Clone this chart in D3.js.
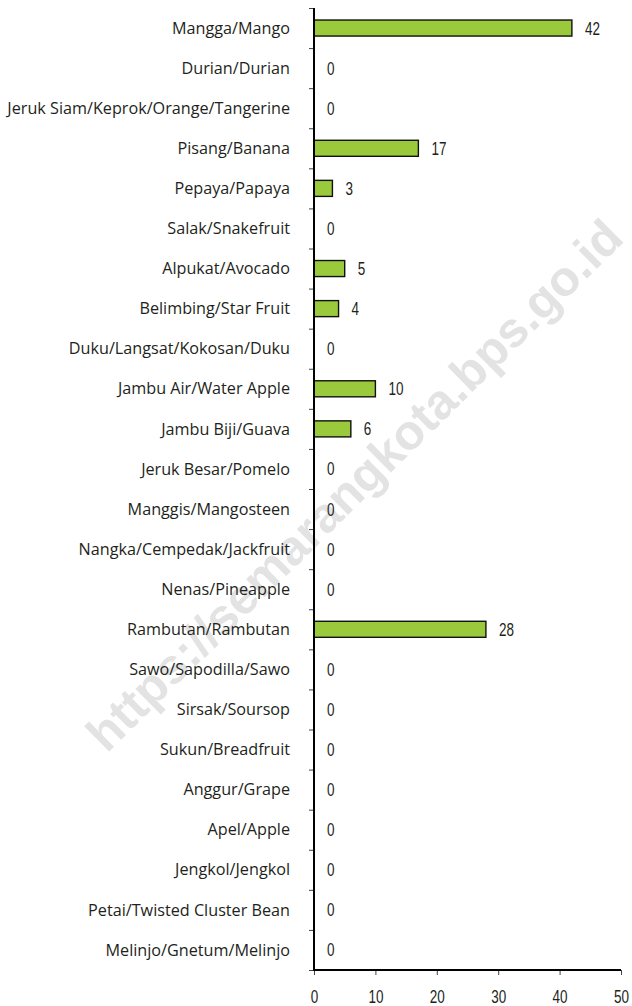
<!DOCTYPE html>
<html>
<head>
<meta charset="utf-8">
<script src="https://cdn.jsdelivr.net/npm/d3@7"></script>
<style>
  body { margin: 0; background: #fff; }
  .cat { font-family: "Open Sans", "Noto Sans", sans-serif; font-size: 16.2px; fill: #231f20; }
  .num { font-family: "Liberation Sans", Arial, sans-serif; font-size: 18px; fill: #231f20; }
</style>
</head>
<body>
<div id="chart"></div>
<script>
const categories = [
    'Mangga/Mango', 'Durian/Durian', 'Jeruk Siam/Keprok/Orange/Tangerine', 'Pisang/Banana',
    'Pepaya/Papaya', 'Salak/Snakefruit', 'Alpukat/Avocado', 'Belimbing/Star Fruit',
    'Duku/Langsat/Kokosan/Duku', 'Jambu Air/Water Apple', 'Jambu Biji/Guava', 'Jeruk Besar/Pomelo',
    'Manggis/Mangosteen', 'Nangka/Cempedak/Jackfruit', 'Nenas/Pineapple', 'Rambutan/Rambutan',
    'Sawo/Sapodilla/Sawo', 'Sirsak/Soursop', 'Sukun/Breadfruit', 'Anggur/Grape',
    'Apel/Apple', 'Jengkol/Jengkol', 'Petai/Twisted Cluster Bean', 'Melinjo/Gnetum/Melinjo'
];
const values = [42, 0, 0, 17, 3, 0, 5, 4, 0, 10, 6, 0, 0, 0, 0, 28, 0, 0, 0, 0, 0, 0, 0, 0];
const xTicks = [0, 10, 20, 30, 40, 50];
const watermark = 'https://semarangkota.bps.go.id';

const width = 632;
const height = 1006;
const margin = { top: 8, right: 11, bottom: 36, left: 314 };
const squeeze = 0.75; // narrow digits, like a condensed face

const svg = d3.select('#chart')
    .append('svg')
    .attr('width', width)
    .attr('height', height);

const xScale = d3.scaleLinear()
    .domain([0, 50])
    .range([margin.left, width - margin.right]);

const yScale = d3.scaleBand()
    .domain(categories)
    .range([margin.top, height - margin.bottom]);

// tick marks sit on the band boundaries
const yEdges = d3.scaleLinear()
    .domain([0, categories.length])
    .range([margin.top, height - margin.bottom]);

// watermark behind everything
svg.append('text')
    .attr('transform', 'translate(357,488) rotate(-44.7)')
    .attr('text-anchor', 'middle')
    .attr('dominant-baseline', 'middle')
    .attr('textLength', 730)
    .attr('lengthAdjust', 'spacingAndGlyphs')
    .style('font-family', '"Liberation Sans", Arial, sans-serif')
    .style('font-weight', 'bold')
    .style('font-size', '49px')
    .style('fill', '#e3e3e3')
    .text(watermark);

const rows = categories.map((c, i) => ({ c, v: values[i] }));
const barH = yScale.bandwidth() * 0.4;

svg.append('g')
    .selectAll('rect')
    .data(rows.filter((d) => d.v > 0))
    .join('rect')
    .attr('x', xScale(0))
    .attr('y', (d) => yScale(d.c) + (yScale.bandwidth() - barH) / 2)
    .attr('width', (d) => xScale(d.v) - xScale(0))
    .attr('height', barH)
    .attr('fill', '#9aca3c')
    .attr('stroke', '#111')
    .attr('stroke-width', 1.4);

// value labels
svg.append('g')
    .selectAll('text')
    .data(rows)
    .join('text')
    .attr('class', 'num')
    .attr('transform', (d) => `translate(${xScale(d.v) + 13},${yScale(d.c) + yScale.bandwidth() / 2}) scale(${squeeze},1)`)
    .attr('dy', '0.36em')
    .text((d) => d.v);

// category labels
svg.append('g')
    .selectAll('text')
    .data(categories)
    .join('text')
    .attr('class', 'cat')
    .attr('x', margin.left - 24)
    .attr('y', (d) => yScale(d) + yScale.bandwidth() / 2)
    .attr('dy', '0.35em')
    .attr('text-anchor', 'end')
    .text((d) => d);

// y ticks
const yAxis = svg.append('g')
    .attr('transform', `translate(${margin.left},0)`)
    .call(d3.axisLeft(yEdges).tickValues(d3.range(categories.length + 1)).tickFormat('').tickSize(5));
yAxis.select('.domain').remove();
yAxis.selectAll('line').attr('stroke', '#444');

// x axis
const xAxis = svg.append('g')
    .attr('transform', `translate(0,${height - margin.bottom})`)
    .call(d3.axisBottom(xScale).tickValues(xTicks).tickSize(5).tickPadding(15));
xAxis.select('.domain').remove();
xAxis.selectAll('line').attr('stroke', '#444');
xAxis.selectAll('text')
    .attr('class', 'num')
    .attr('font-size', null)
    .attr('font-family', null)
    .attr('transform', `scale(${squeeze},1)`);

// axis lines
svg.append('line')
    .attr('x1', margin.left).attr('x2', margin.left)
    .attr('y1', margin.top).attr('y2', height - margin.bottom + 1)
    .attr('stroke', '#000').attr('stroke-width', 2);
svg.append('line')
    .attr('x1', margin.left - 1).attr('x2', width - margin.right)
    .attr('y1', height - margin.bottom).attr('y2', height - margin.bottom)
    .attr('stroke', '#000').attr('stroke-width', 2);
</script>
</body>
</html>
